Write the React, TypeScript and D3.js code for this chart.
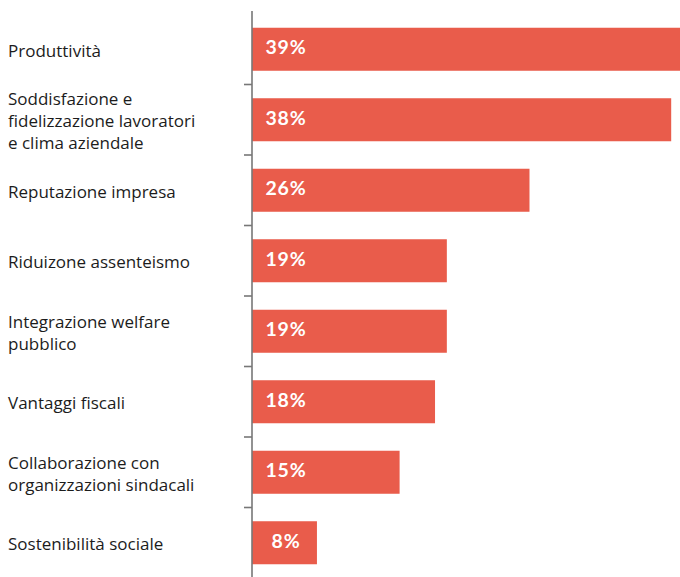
import React from "react";
import * as d3 from "d3";

const categories: string[][] = [
  ["Produttività"],
  ["Soddisfazione e", "fidelizzazione lavoratori", "e clima aziendale"],
  ["Reputazione impresa"],
  ["Riduizone assenteismo"],
  ["Integrazione welfare", "pubblico"],
  ["Vantaggi fiscali"],
  ["Collaborazione con", "organizzazioni sindacali"],
  ["Sostenibilità sociale"],
];
const values: number[] = [39, 38, 26, 19, 19, 18, 15, 8];
const valueLabels: string[] = ["39%", "38%", "26%", "19%", "19%", "18%", "15%", "8%"];

const W = 680;
const H = 577;
const AXIS_X = 252;
const BAR_COLOR = "#e95c4b";

export default function App() {
  const ids = categories.map((_, i) => String(i));
  const y = d3.scaleBand<string>().domain(ids).range([14, 578]).paddingInner(0.39).paddingOuter(0.195);
  const x = d3.scaleLinear().domain([2.5, 39]).range([AXIS_X, AXIS_X + 431]);
  const step = y.step();
  const tickYs = ids.slice(1).map((id) => (y(id) as number) - (step - y.bandwidth()) / 2);
  const lineH = 22;

  return (
    <svg
      width={W}
      height={H}
      style={{ position: "fixed", left: 0, top: 0, background: "#fff" }}
    >
      {values.map((v, i) => {
        const yy = y(ids[i]) as number;
        const bw = y.bandwidth();
        const cy = yy + bw / 2;
        const lines = categories[i];
        const firstBase = cy + 7.5 - (lines.length - 1) * (lineH / 2);
        return (
          <g key={i}>
            <rect x={AXIS_X} y={yy} width={x(v) - AXIS_X} height={bw} fill={BAR_COLOR} />
            <text
              x={AXIS_X + 34}
              y={cy + 5}
              textAnchor="middle"
              fill="#fff"
              fontWeight={700}
              fontSize={19.5}
              letterSpacing={0.8}
              fontFamily="Lato, sans-serif"
            >
              {valueLabels[i]}
            </text>
            <text x={8} y={firstBase} fill="#1c1c1c" fontSize={17} fontFamily="'Open Sans', sans-serif">
              {lines.map((l, k) => (
                <tspan key={k} x={8} y={firstBase + k * lineH}>
                  {l}
                </tspan>
              ))}
            </text>
          </g>
        );
      })}
      <line x1={AXIS_X} x2={AXIS_X} y1={11} y2={H} stroke="#777" strokeWidth={1.6} />
      {tickYs.map((t, i) => (
        <line key={i} x1={AXIS_X - 8} x2={AXIS_X} y1={t} y2={t} stroke="#777" strokeWidth={1.6} />
      ))}
    </svg>
  );
}
